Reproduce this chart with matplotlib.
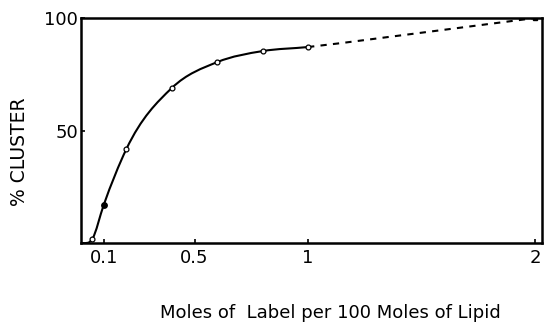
import numpy as np
import matplotlib
matplotlib.use('Agg')
import matplotlib.pyplot as plt
from matplotlib.path import Path
from matplotlib.patches import PathPatch

# measured points (moles label per 100 moles lipid, % cluster)
x_meas = [0.05, 0.10, 0.20, 0.40, 0.60, 0.80, 1.00]
y_meas = [1.8, 16.9, 41.8, 68.9, 80.4, 85.3, 87.1]
filled = [False, True, False, False, False, False, False]

# extrapolated part (dashed)
x_dash = [1.00, 1.15, 2.00]
y_dash = [87.1, 88.9, 100.0]

x_ticks = [0.1, 0.5, 1, 2]
x_tick_labels = ['0.1', '0.5', '1', '2']
y_ticks = [50, 100]
y_tick_labels = ['50', '100']


def smooth_path(xs, ys, end_slope=(0.0, 10.0)):
    # cubic Hermite in x (3-point slopes for uneven spacing) as Bezier segments
    xs = np.asarray(xs, float)
    ys = np.asarray(ys, float)
    h = np.diff(xs)
    s = np.diff(ys) / h
    m = np.zeros(len(xs))
    m[0], m[-1] = end_slope
    for i in range(1, len(xs) - 1):
        m[i] = (h[i] * s[i - 1] + h[i - 1] * s[i]) / (h[i - 1] + h[i])
    verts = [(xs[0], ys[0])]
    codes = [Path.MOVETO]
    for i in range(len(xs) - 1):
        d = h[i] / 3.0
        verts += [(xs[i] + d, ys[i] + m[i] * d),
                  (xs[i + 1] - d, ys[i + 1] - m[i + 1] * d),
                  (xs[i + 1], ys[i + 1])]
        codes += [Path.CURVE4] * 3
    return Path(verts, codes)


plt.rcParams['font.family'] = 'DejaVu Sans'
fig = plt.figure(figsize=(5.46, 3.27), dpi=100)
ax = fig.add_axes([81 / 546, 84 / 327, 461 / 546, 225 / 327])

curve = smooth_path([0.005] + x_meas, [0.0] + y_meas)
ax.add_patch(PathPatch(curve, facecolor='none', edgecolor='black', lw=1.5))

ax.plot(x_dash, y_dash, color='black', lw=1.5, dashes=(3, 3))

for xv, yv, f in zip(x_meas, y_meas, filled):
    ax.plot(xv, yv, 'o', ms=4 if f else 3.5, mfc='black' if f else 'white',
            mec='black', mew=0.9)
ax.plot(x_dash[-1], y_dash[-1], 's', ms=3.5, color='black')

ax.set_xlim(0, 2.03)
ax.set_ylim(0, 100)
for s in ax.spines.values():
    s.set_linewidth(1.8)

ax.set_xticks(x_ticks)
ax.set_xticklabels(x_tick_labels)
ax.set_yticks(y_ticks)
ax.set_yticklabels(y_tick_labels)
ax.tick_params(direction='in', length=3, width=1.2, labelsize=13, pad=4)
ax.tick_params(axis='y', pad=2)

fig.text(20 / 546, 1 - 152 / 327, '% CLUSTER', rotation=90, fontsize=13.5,
         ha='center', va='center')
fig.text(330 / 546, 1 - 313 / 327, 'Moles of  Label per 100 Moles of Lipid',
         fontsize=13, ha='center', va='center')

fig.savefig('out.png', dpi=100)
